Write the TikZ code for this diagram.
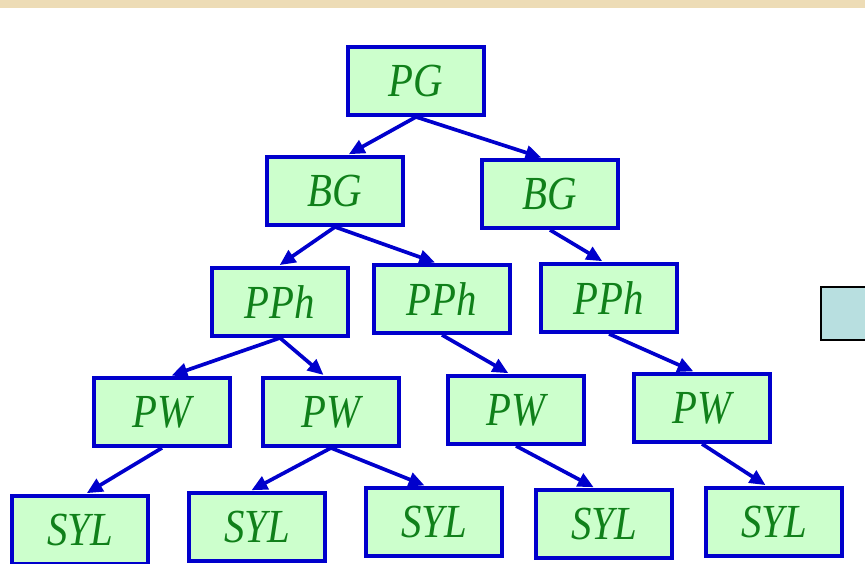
\documentclass[tikz,border=0pt]{standalone}
\usepackage{fontspec}
\setmainfont{Liberation Serif}[FakeStretch=0.86]
\usetikzlibrary{arrows.meta,positioning}

\definecolor{BoxFill}{HTML}{CCFFCC}
\definecolor{BoxLine}{HTML}{0000CC}
\definecolor{TextGreen}{HTML}{10801A}
\definecolor{BandTan}{HTML}{EDDCB6}
\definecolor{SideFill}{HTML}{B8DFE0}

\begin{document}
\begin{tikzpicture}[
    % Environment Config
    x=0.02cm, y=-0.02cm,
    MyBox/.style={% Style for the tree boxes
      draw=BoxLine,
      fill=BoxFill,
      line width=2.2pt,
      minimum width=2.72cm,
      minimum height=1.36cm,
      inner sep=0pt,
      text=TextGreen,
      font=\fontsize{27}{29}\selectfont\itshape
    },
    MyArrow/.style={% Style for the branches
      -{Triangle[length=9pt,width=8pt]},
      BoxLine,
      line width=2.1pt,
      shorten >= 1pt
    }
  ]

  % Frame of the picture
  \useasboundingbox (0,0) rectangle (865,564);
  \clip (0,0) rectangle (865,564);
  \fill[BandTan] (0,0) rectangle (865,8);

  % Side box, cut by the right edge
  \draw[fill=SideFill, line width=1.2pt] (821,287) rectangle (890,340);

  % Put the boxes in position
  %===Level 1===
  \node[MyBox] (PG) at (416,81) {PG};
  %===Level 2===
  \node[MyBox] (BGa) at (335,191) {BG};
  \node[MyBox] (BGb) at (550,194) {BG};
  %===Level 3===
  \node[MyBox] (PPha) at (280,302) {PPh};
  \node[MyBox] (PPhb) at (442,299) {PPh};
  \node[MyBox] (PPhc) at (609,298) {PPh};
  %===Level 4===
  \node[MyBox] (PWa) at (162,412) {PW};
  \node[MyBox] (PWb) at (331,412) {PW};
  \node[MyBox] (PWc) at (516,410) {PW};
  \node[MyBox] (PWd) at (702,408) {PW};
  %===Level 5===
  \node[MyBox] (SYLa) at (80,530) {SYL};
  \node[MyBox] (SYLb) at (257,527) {SYL};
  \node[MyBox] (SYLc) at (434,522) {SYL};
  \node[MyBox] (SYLd) at (604,524) {SYL};
  \node[MyBox] (SYLe) at (774,522) {SYL};

  % Draw the branches
  \draw[MyArrow] (PG.south) -- ([xshift=7pt]BGa.north);
  \draw[MyArrow] (PG.south) -- ([xshift=-4pt]BGb.north);
  \draw[MyArrow] (BGa.south) -- ([xshift=-1pt]PPha.north);
  \draw[MyArrow] (BGa.south) -- ([xshift=-3pt]PPhb.north);
  \draw[MyArrow] (BGb.south) -- ([xshift=-3pt]PPhc.north);
  \draw[MyArrow] (PPha.south) -- ([xshift=4.5pt]PWa.north);
  \draw[MyArrow] (PPha.south) -- ([xshift=-3.5pt]PWb.north);
  \draw[MyArrow] (PPhb.south) -- ([xshift=-3.5pt]PWc.north);
  \draw[MyArrow] (PPhc.south) -- ([xshift=-4pt]PWd.north);
  \draw[MyArrow] (PWa.south) -- ([xshift=3pt]SYLa.north);
  \draw[MyArrow] (PWb.south) -- ([xshift=-4pt]SYLb.north);
  \draw[MyArrow] (PWb.south) -- ([xshift=-4.5pt]SYLc.north);
  \draw[MyArrow] (PWc.south) -- ([xshift=-5pt]SYLd.north);
  \draw[MyArrow] (PWd.south) -- ([xshift=-4pt]SYLe.north);

\end{tikzpicture}
\end{document}
